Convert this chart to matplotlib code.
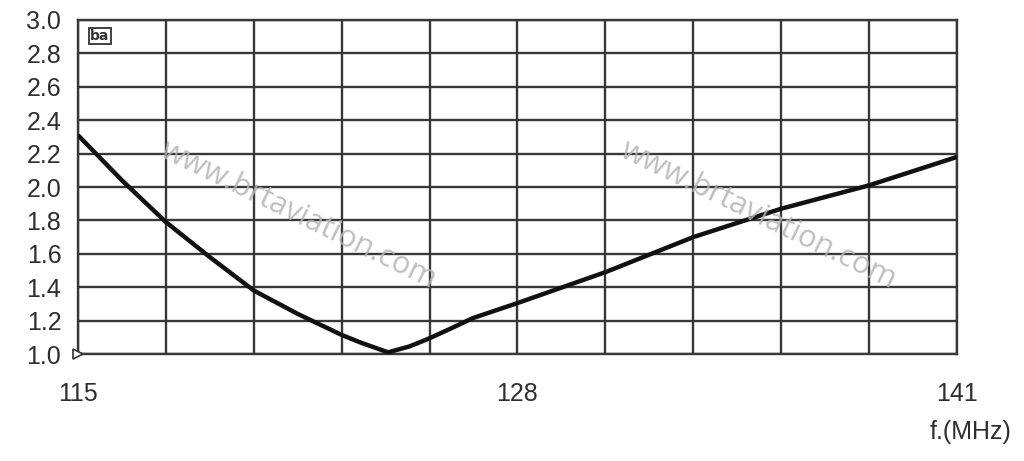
import matplotlib
matplotlib.use("Agg")
import matplotlib.pyplot as plt
import numpy as np

# Data
freq_mhz = [115.0, 116.3, 117.6, 118.9, 120.2, 121.5, 122.8, 123.34, 124.17,
            124.8, 125.35, 126.0, 126.68, 128.0, 130.6, 133.2, 135.8, 138.4, 141.0]
vswr = [2.31, 2.04, 1.79, 1.58, 1.38, 1.24, 1.114, 1.07, 1.01,
        1.045, 1.09, 1.15, 1.215, 1.305, 1.49, 1.70, 1.87, 2.01, 2.18]
x_tick_values = [115, 128, 141]
y_tick_values = [1.0, 1.2, 1.4, 1.6, 1.8, 2.0, 2.2, 2.4, 2.6, 2.8, 3.0]
x_label = "f.(MHz)"
watermark = "www.brtaviation.com"

fig = plt.figure(figsize=(10.24, 4.61), dpi=100)
ax = fig.add_axes([78/1024, 1-354/461, (957-78)/1024, (354-20)/461])

grid_color = "#383838"
# grid: 10 vertical divisions, horizontal every 0.2
for xv in np.linspace(115, 141, 11):
    ax.axvline(xv, color=grid_color, lw=1.7, zorder=1)
for yv in y_tick_values:
    ax.axhline(yv, color=grid_color, lw=1.7, zorder=1)

ax.plot(freq_mhz, vswr, color="#111111", lw=3.2, solid_capstyle="butt",
        solid_joinstyle="round", zorder=3)

ax.set_xlim(115, 141)
ax.set_ylim(1.0, 3.0)
ax.set_xticks(x_tick_values)
ax.set_yticks(y_tick_values)
ax.set_yticklabels([f"{v:.1f}" for v in y_tick_values])
ax.tick_params(axis="both", length=0, labelsize=18, labelcolor="#2e2e2e")
ax.tick_params(axis="y", pad=12)
ax.tick_params(axis="x", pad=20)
for s in ax.spines.values():
    s.set_color(grid_color)
    s.set_linewidth(1.7)

for lab in ax.get_yticklabels() + ax.get_xticklabels():
    lab.set_family("Liberation Sans")

fig.text(1012/1024, 1-432/461, x_label, ha="right", va="center",
         fontsize=18, color="#2e2e2e", family="Liberation Sans")

# small open triangle marker at origin
ax.plot([115], [1.0], marker=">", markersize=7, markerfacecolor="white",
        markeredgecolor="#333333", markeredgewidth=1.2, clip_on=False,
        zorder=4, linestyle="none")

# boxed label at top-left
ax.text(0.014, 0.952, "ba", transform=ax.transAxes, fontsize=10, ha="left", va="center",
        color="#333333", family="DejaVu Sans", fontweight="bold",
        bbox=dict(boxstyle="square,pad=0.1", fc="white", ec="#333333", lw=1.3))

# watermarks
for cx in (298, 758):
    fig.text(cx/1024, 1-215/461, watermark, ha="center", va="center", rotation=-26,
             fontsize=22, color="#b4b4b4", alpha=0.85, family="Open Sans",
             rotation_mode="anchor", zorder=5)

fig.savefig("out.png", dpi=100)
